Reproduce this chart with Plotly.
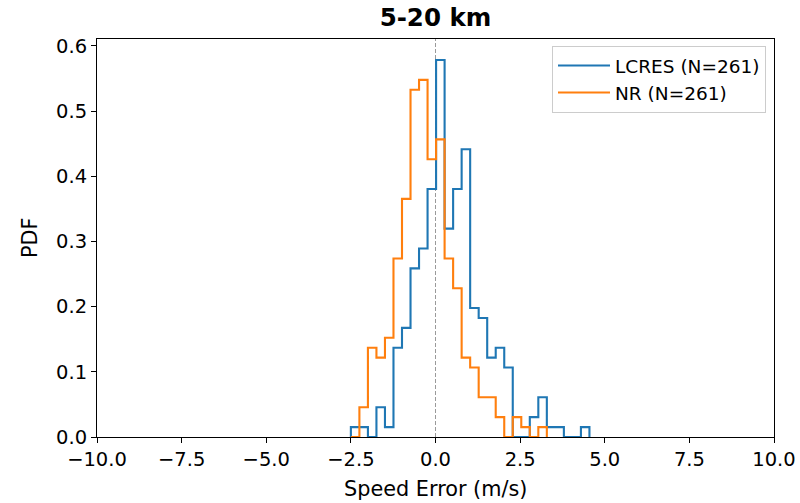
import numpy as np
import plotly.graph_objects as go

# Histogram bins (shared by both series)
bin_start = -2.50
bin_width = 0.2517
n_total = 261

# Counts per bin
lcres_counts = [1, 1, 0, 3, 1, 9, 11, 17, 19, 25, 38, 21, 25, 29, 13, 12, 8, 9, 7,
                0, 0, 2, 4, 1, 1, 0, 0, 1]
nr_counts = [0, 3, 9, 8, 10, 18, 24, 35, 36, 28, 30, 18, 15, 8, 7, 4, 4, 2, 0,
             2, 1, 0, 1]

x_ticks = [-10.0, -7.5, -5.0, -2.5, 0.0, 2.5, 5.0, 7.5, 10.0]
y_ticks = [0.0, 0.1, 0.2, 0.3, 0.4, 0.5, 0.6]

series = [
    ("LCRES (N=261)", lcres_counts, "#1f77b4"),
    ("NR (N=261)", nr_counts, "#ff7f0e"),
]


def step_outline(counts):
    counts = np.asarray(counts, dtype=float)
    edges = bin_start + bin_width * np.arange(len(counts) + 1)
    dens = counts / (n_total * bin_width)
    xs = [edges[0]] + list(edges[:-1]) + [edges[-1]]
    ys = [0.0] + list(dens) + [0.0]
    return xs, ys


fig = go.Figure()
for name, counts, color in series:
    xs, ys = step_outline(counts)
    fig.add_trace(go.Scatter(
        x=xs, y=ys, mode="lines", name=name,
        line=dict(color=color, width=2.1, shape="hv"),
        hoverinfo="skip",
    ))

fig.add_shape(type="line", xref="x", yref="paper", x0=0, x1=0, y0=0, y1=1,
              line=dict(color="#808080", width=0.8, dash="4px,2px"), layer="below")

font_family = "DejaVu Sans"
L, R, T, B = 97, 774, 39, 437.5
pw, ph = R - L, B - T

fig.update_layout(
    width=800, height=503, autosize=False,
    margin=dict(l=L, r=800 - R, t=T, b=503 - B, pad=0, autoexpand=False),
    paper_bgcolor="white", plot_bgcolor="white",
    font=dict(family=font_family, size=19.5, color="black"),
    title=dict(text="<b>5-20 km</b>", x=(L + R) / 2 / 800, xanchor="center",
               y=1 - 17 / 503, yanchor="middle", yref="container",
               font=dict(family=font_family, size=24.5, color="black")),
    showlegend=True,
    legend=dict(x=(766 - L) / pw, xanchor="right", y=(B - 46) / ph, yanchor="top",
                bgcolor="rgba(255,255,255,0.8)", bordercolor="#cccccc", borderwidth=1,
                font=dict(family=font_family, size=18.5, color="black"),
                itemwidth=52),
    xaxis=dict(range=[-10, 10], tickvals=x_ticks,
               ticktext=[("−" if v < 0 else "") + f"{abs(v):.1f}" for v in x_ticks],
               showgrid=False, zeroline=False, showline=True, linecolor="black",
               linewidth=1.1, mirror=True, ticks="outside", ticklen=5, tickwidth=1.1,
               tickcolor="black", tickfont=dict(size=19.5), automargin=False),
    yaxis=dict(range=[0, 0.6107], tickvals=y_ticks, ticktext=[f"{v:.1f}" for v in y_ticks],
               showgrid=False, zeroline=False, showline=True, linecolor="black",
               linewidth=1.1, mirror=True, ticks="outside", ticklen=5, tickwidth=1.1,
               tickcolor="black", tickfont=dict(size=19.5), automargin=False),
    annotations=[
        dict(text="Speed Error (m/s)", xref="paper", yref="paper", x=0.5,
             y=(B - 490) / ph, xanchor="center", yanchor="middle",
             showarrow=False, font=dict(family=font_family, size=20.8)),
        dict(text="PDF", xref="paper", yref="paper", x=(30 - L) / pw,
             y=0.5, xanchor="center", yanchor="middle", textangle=-90,
             showarrow=False, font=dict(family=font_family, size=20.8)),
    ],
)

fig.write_html("out.html", config={"displayModeBar": False, "responsive": False},
               post_script="document.body.style.margin='0';document.body.style.padding='0';")
